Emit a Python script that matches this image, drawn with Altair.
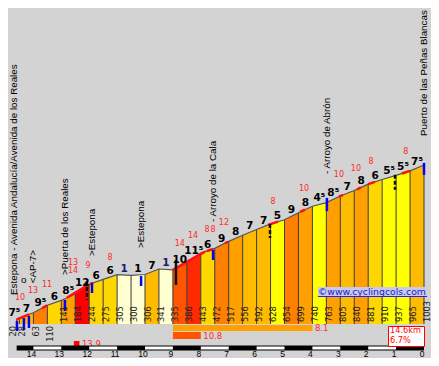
import altair as alt
import pandas as pd
import numpy as np

# ---------------- data ----------------
km_marks = [14.6, 14.5, 14.0, 13.5, 13.0, 12.5, 12.0, 11.5, 11.0, 10.5, 10.0, 9.5, 9.0, 8.5,
            8.0, 7.5, 7.0, 6.5, 6.0, 5.5, 5.0, 4.5, 4.0, 3.5, 3.0, 2.5, 2.0, 1.5, 1.0, 0.5, 0.0]
altitudes = [20, 28, 63, 110, 141, 184, 244, 275, 305, 300, 306, 341, 335, 386, 443, 472,
             517, 556, 592, 628, 654, 699, 740, 763, 805, 840, 881, 910, 937, 965, 1003]
grades = [7.5, 7, 9.5, 6, 8.5, 12, 6, 6, -1, 1, 7, -1, 10, 11.5, 6, 9, 8, 7, 7, 5, 9, 8,
          4.5, 8.5, 7, 8, 6, 5.5, 5.5, 7.5]
grade_labels = ["7⁵", "7", "9⁵", "6", "8⁵", "12", "6", "6", "1", "1", "7", "1", "10", "11⁵",
                "6", "9", "8", "7", "7", "5", "9", "8", "4⁵", "8⁵", "7", "8", "6", "5⁵", "5⁵", "7⁵"]

steep_from = [14.60, 13.69, 12.80, 11.97, 9.00, 7.78, 7.13, 5.59, 4.44, 3.05, 2.40, 2.00, 0.79]
steep_to = [14.15, 13.51, 12.05, 11.86, 7.85, 7.56, 7.03, 5.23, 4.27, 2.90, 2.26, 1.76, 0.50]

max_text = ["10", "13", "11", "13", "14", "9", "8", "14", "14", "8", "8", "12", "8", "10",
            "10", "10", "8", "8"]
max_km = [14.48, 14.01, 13.51, 12.58, 12.58, 12.04, 11.25, 8.75, 8.28, 7.78, 7.56, 7.17,
          5.41, 4.30, 3.05, 2.44, 1.90, 0.65]
max_alt = [157, 201, 239, 379, 328, 360, 411, 500, 551, 589, 589, 634, 767, 850, 939, 977,
           1022, 1085]

place_names = ["Estepona - Avenida Andalucía/Avenida de los Reales", "<AP-7>",
               ">Puerta de los Reales", ">Estepona", ">Estepona", "- Arroyo de la Cala",
               "- Arroyo de Abrón", "Puerto de las Peñas Blancas"]
place_km = [14.70, 14.01, 12.87, 11.90, 10.14, 7.56, 3.48, 0.0]
place_alt = [176, 250, 303, 424, 475, 640, 945, 1187]
small_mark = ["o"]
small_mark_km = [14.35]
small_mark_alt = [274]

blue_km = [14.59, 14.34, 14.16, 12.87, 11.90, 10.14, 7.56, 3.48, 0.0]
blue_top = [10, 29, 42, 144, 252, 296, 462, 793, 1016]
blue_bottom = [-54, -47, -34, 74, 188, 233, 398, 710, 940]
black_km = [8.89, 12.08, 5.52, 1.04]
black_top = [398, 265, 627, 940]
black_bottom = [239, 144, 538, 845]

stretch_from = [9.0, 9.0, 12.55]
stretch_to = [4.0, 8.0, 12.35]
stretch_grade = [8.1, 10.8, 13.9]

total_km = 14.6
avg_grade = 6.7
tick_km = list(range(0, 15))

# ---------------- geometry ----------------
W, H = 423, 350
KM0_PX = 416.0
PX_PER_KM = 27.9
Y0_PX = 314.6
PX_PER_M = 0.1572
BASE = -9

xs = alt.Scale(domain=[(KM0_PX - W) / PX_PER_KM, KM0_PX / PX_PER_KM], reverse=True,
               nice=False, zero=False)
ys = alt.Scale(domain=[(Y0_PX - H) / PX_PER_M, Y0_PX / PX_PER_M], nice=False, zero=False)


def X(f):
    return alt.X(f, type="quantitative", scale=xs, axis=None)


def Y(f):
    return alt.Y(f, type="quantitative", scale=ys, axis=None)


def px2km(p):
    return p / PX_PER_KM


color_scale = alt.Scale(type="threshold",
                        domain=[2, 5.75, 6.5, 7.75, 8.75, 9.75, 11, 11.75],
                        range=["#FFFFD2", "#FFFF00", "#FFD700", "#FFBB00", "#FFA000",
                               "#FF8000", "#FF5500", "#FF2A00", "#FF0000"])

# ---------------- frames ----------------
rows = []
for i in range(len(grades)):
    for j in (i, i + 1):
        rows.append(dict(seg=i, km=km_marks[j], alt=altitudes[j], grade=grades[i], base=BASE))
df_area = pd.DataFrame(rows)

df_pts = pd.DataFrame(dict(km=km_marks, alt=altitudes, base=[BASE] * len(km_marks)))

rk = km_marks[::-1]
ra = altitudes[::-1]
red_rows = []
for p, (a, b) in enumerate(zip(steep_from, steep_to)):
    for k in (a, b):
        red_rows.append(dict(piece=p, km=k, alt=float(np.interp(k, rk, ra))))
df_red = pd.DataFrame(red_rows)

mids = []
for i in range(len(grades)):
    km_mid = (km_marks[i] + km_marks[i + 1]) / 2
    alt_mid = (altitudes[i] + altitudes[i + 1]) / 2
    if i == 0:
        km_mid += 0.13
    mids.append(dict(km=km_mid, alt=alt_mid, t=grade_labels[i], neg=grades[i] < 0))
df_mid = pd.DataFrame(mids)

alt_rows = []
for i, (k, a) in enumerate(zip(km_marks, altitudes)):
    if i == 0:
        kk = k + px2km(3.0)
    else:
        kk = k - px2km(3.5)
    alt_rows.append(dict(km=kk, t=str(a), low=a < 120))
df_alt = pd.DataFrame(alt_rows)

df_max = pd.DataFrame(dict(km=max_km, alt=max_alt, t=max_text))
df_place = pd.DataFrame(dict(km=place_km, alt=place_alt, t=place_names))
df_small = pd.DataFrame(dict(km=small_mark_km, alt=small_mark_alt, t=small_mark))
df_blue = pd.DataFrame(dict(km=blue_km, top=blue_top, bot=blue_bottom))
df_black = pd.DataFrame(dict(km=black_km, top=black_top, bot=black_bottom))
df_tick = pd.DataFrame(dict(km=tick_km, t=[str(k) for k in tick_km]))
white_from = [14, 12, 10, 8, 6, 4, 2]
df_white = pd.DataFrame(dict(a=white_from, b=[w - 1 for w in white_from]))
one = pd.DataFrame(dict(a=[0]))

layers = []

# profile fill
layers.append(alt.Chart(df_area).mark_area(interpolate="linear").encode(
    x=X("km"), y=alt.Y("alt", type="quantitative", scale=ys, axis=None, stack=None),
    y2=alt.Y2("base"),
    color=alt.Color("grade:Q", scale=color_scale, legend=None),
    detail="seg:N"))

# dividers
layers.append(alt.Chart(df_pts).mark_rule(color="#3a3a3a", strokeWidth=1).encode(
    x=X("km"), y=Y("alt"), y2=alt.Y2("base")))

# profile line
layers.append(alt.Chart(df_pts).mark_line(color="#555555", strokeWidth=1.2).encode(
    x=X("km"), y=Y("alt")))

# steep highlights
layers.append(alt.Chart(df_red).mark_line(color="#FF1010", strokeWidth=2.5).encode(
    x=X("km"), y=Y("alt"), detail="piece:N"))

# markers
layers.append(alt.Chart(df_blue).mark_rule(color="#0000FF", strokeWidth=2.5).encode(
    x=X("km"), y=Y("top"), y2=alt.Y2("bot")))
layers.append(alt.Chart(df_black.iloc[:1]).mark_rule(color="#111111", strokeWidth=2.5).encode(
    x=X("km"), y=Y("top"), y2=alt.Y2("bot")))
layers.append(alt.Chart(df_black.iloc[1:]).mark_rule(color="#111111", strokeWidth=2.5,
                                                     strokeDash=[4, 2]).encode(
    x=X("km"), y=Y("top"), y2=alt.Y2("bot")))

# gradient labels
for neg, col in ((False, "#000000"), (True, "#1C1C6E")):
    layers.append(alt.Chart(df_mid[df_mid.neg == neg]).mark_text(
        font="DejaVu Sans", fontWeight="bold", fontSize=10.5, baseline="alphabetic",
        align="center", dy=-3, color=col).encode(x=X("km"), y=Y("alt"), text="t:N"))

# max-gradient numbers
layers.append(alt.Chart(df_max).mark_text(
    font="DejaVu Sans", fontSize=8, color="#FF2A2A", baseline="middle", align="center").encode(
    x=X("km"), y=Y("alt"), text="t:N"))

# altitude labels
layers.append(alt.Chart(df_alt[~df_alt.low]).mark_text(
    font="DejaVu Sans", fontSize=8.3, color="#222222", angle=270, align="left",
    baseline="middle").encode(x=X("km"), y=alt.value(314), text="t:N"))
layers.append(alt.Chart(df_alt[df_alt.low]).mark_text(
    font="DejaVu Sans", fontSize=8.3, color="#222222", angle=270, align="right",
    baseline="middle").encode(x=X("km"), y=alt.value(318), text="t:N"))

# place names
layers.append(alt.Chart(df_place).mark_text(
    font="Liberation Sans", fontSize=9.8, color="#000000", angle=270, align="left",
    baseline="middle").encode(x=X("km"), y=Y("alt"), text="t:N"))
layers.append(alt.Chart(df_small).mark_text(
    font="Liberation Sans", fontSize=9.8, color="#000000", align="center",
    baseline="middle").encode(x=X("km"), y=Y("alt"), text="t:N"))

# copyright
layers.append(alt.Chart(one).mark_rect(color="#C8C8F0").encode(
    x=alt.value(310), x2=alt.value(419), y=alt.value(279), y2=alt.value(288)))
layers.append(alt.Chart(one).mark_rule(color="#2020FF", strokeWidth=1).encode(
    x=alt.value(310), x2=alt.value(419), y=alt.value(288.5)))
layers.append(alt.Chart(pd.DataFrame(dict(t=["©www.cyclingcols.com"]))).mark_text(
    font="DejaVu Sans", fontSize=9.3, color="#2020C0", align="left", baseline="middle").encode(
    x=alt.value(310), y=alt.value(283.5), text="t:N"))

# steepest stretches
stretch_rows = [(317, 323), (324, 331), (333, 338)]
for i in range(len(stretch_grade)):
    d = pd.DataFrame(dict(a=[stretch_from[i]], b=[stretch_to[i]], grade=[stretch_grade[i]],
                          t=[f"{stretch_grade[i]:.1f}"]))
    y0, y1 = stretch_rows[i]
    layers.append(alt.Chart(d).mark_rect().encode(
        x=X("a"), x2=alt.X2("b"), y=alt.value(y0), y2=alt.value(y1),
        color=alt.Color("grade:Q", scale=color_scale, legend=None)))
    layers.append(alt.Chart(d).mark_text(
        font="DejaVu Sans", fontSize=8.5, color="#FF2A2A", align="left", baseline="middle",
        dx=2.5).encode(x=X("b"), y=alt.value((y0 + y1) / 2), text="t:N"))

# distance bar
layers.append(alt.Chart(pd.DataFrame(dict(a=[km_marks[0]], b=[km_marks[-1]]))).mark_rect(
    color="#000000").encode(x=X("a"), x2=alt.X2("b"), y=alt.value(337.5), y2=alt.value(342.5)))
layers.append(alt.Chart(df_white).mark_rect(color="#FFFFFF").encode(
    x=X("a"), x2=alt.X2("b"), y=alt.value(338.5), y2=alt.value(341.5)))
layers.append(alt.Chart(df_tick).mark_text(
    font="Liberation Sans", fontSize=8.5, color="#000000", align="center", baseline="middle",
    dx=-2).encode(x=X("km"), y=alt.value(345.8), text="t:N"))

# summary box
layers.append(alt.Chart(one).mark_rect(fill="#FFFFFF", stroke="#FF0000", strokeWidth=1).encode(
    x=alt.value(380.5), x2=alt.value(416.5), y=alt.value(318.5), y2=alt.value(338.5)))
layers.append(alt.Chart(pd.DataFrame(dict(t=[f"{total_km}km", f"{avg_grade}%"],
                                          yy=[323.4, 332.8]))).mark_text(
    font="DejaVu Sans", fontSize=8.2, color="#FF0000", align="left", baseline="middle").encode(
    x=alt.value(382), y=alt.Y("yy:Q", scale=None), text="t:N"))

chart = alt.layer(*layers).properties(
    width=W, height=H, autosize=alt.AutoSizeParams(type="none"), padding=0,
    background="#D3D3D3").configure_view(strokeWidth=0)

chart.save("out.html", embed_options={"renderer": "svg", "actions": False})
